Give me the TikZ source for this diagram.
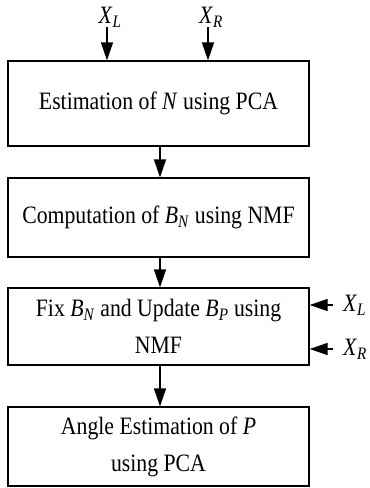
\documentclass[tikz,border=0pt]{standalone}
\usepackage{fontspec}
\setmainfont[FakeStretch=0.87]{Liberation Serif}
\usetikzlibrary{arrows.meta,calc}
\newcommand{\vv}[2]{\textit{#1}\textsubscript{\textit{#2}}}
\begin{document}
\begin{tikzpicture}[x=1pt,y=1pt,
  stepbox/.style={draw,line width=1.3pt,inner sep=0pt,align=center,font=\fontsize{25}{37}\selectfont},
  conn/.style={line width=1.3pt,-{Triangle[length=18pt,width=12pt]}},
  lbl/.style={font=\fontsize{25}{29}\selectfont,inner sep=0pt}]
\useasboundingbox (0,0) rectangle (370,-488);
\node[stepbox,minimum width=301pt,minimum height=85pt] (b1) at (158.5,-103.5) {Estimation of \textit{N} using PCA};
\node[stepbox,minimum width=301pt,minimum height=79pt] (b2) at (158.5,-217.5) {Computation of \vv{B}{N} using NMF};
\node[stepbox,minimum width=301pt,minimum height=77pt] (b3) at (158.5,-326.5) {Fix \vv{B}{N} and Update \vv{B}{P} using\\NMF};
\node[stepbox,minimum width=301pt,minimum height=79pt] (b4) at (158.5,-446.5) {Angle Estimation of \textit{P}\\using PCA};
\node[lbl] (xl) at (110,-17) {\vv{X}{L}};
\node[lbl] (xr) at (211,-17) {\vv{X}{R}};
\node[lbl,anchor=west] (xl2) at (343,-305) {\vv{X}{L}};
\node[lbl,anchor=west] (xr2) at (343,-349) {\vv{X}{R}};
\coordinate (t1) at (107,-27);
\coordinate (t2) at (208,-27);
\coordinate (r1) at (333,-305);
\coordinate (r2) at (333,-349);
\draw[conn] (t1) -- (t1 |- b1.north);
\draw[conn] (t2) -- (t2 |- b1.north);
\draw[conn] (b1.south -| 160,0) -- (b2.north -| 160,0);
\draw[conn] (b2.south -| 160,0) -- (b3.north -| 160,0);
\draw[conn] (b3.south -| 160,0) -- (b4.north -| 160,0);
\draw[conn] (r1) -- (r1 -| b3.east);
\draw[conn] (r2) -- (r2 -| b3.east);
\end{tikzpicture}
\end{document}
